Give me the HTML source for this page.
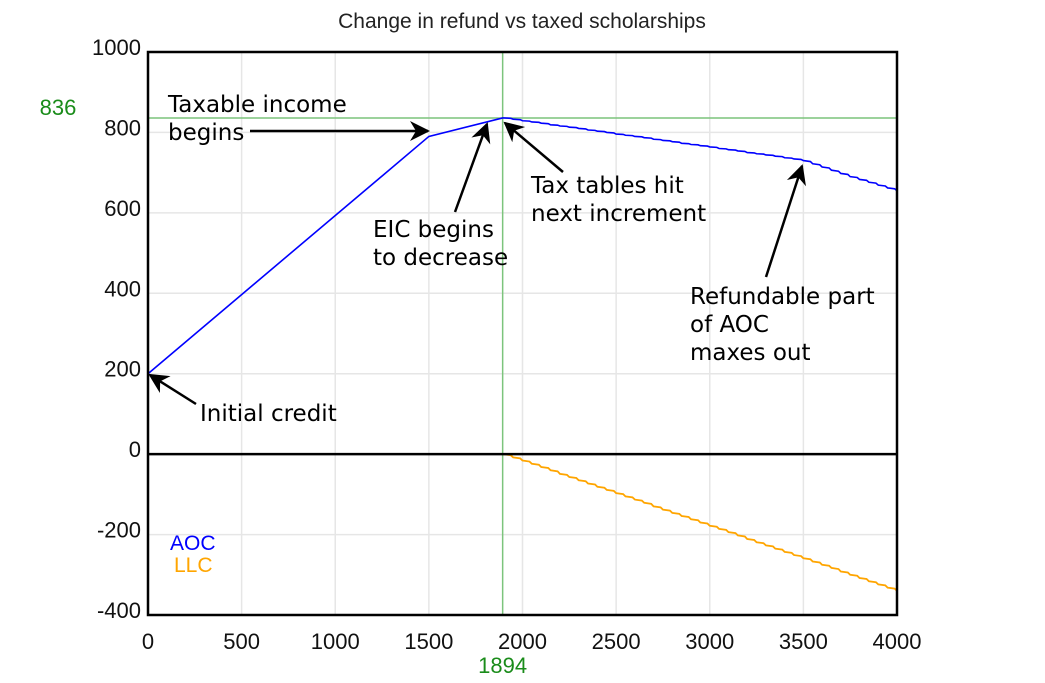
<!DOCTYPE html>
<html><head><meta charset="utf-8"><style>
body{margin:0;background:#fff}
svg{display:block}
text{font-family:"Liberation Sans",sans-serif}
.ann{font-family:"DejaVu Sans","Liberation Sans",sans-serif;font-size:23px;fill:#000}
</style></head><body>
<svg id="chart" width="1045" height="683" viewBox="0 0 1045 683" xmlns="http://www.w3.org/2000/svg">
<defs>
<marker id="ahb" viewBox="0 0 10 10" markerWidth="24" markerHeight="20" refX="9" refY="5" orient="auto" markerUnits="userSpaceOnUse"><path d="M0,0 L10,5 L0,10 L3,5z" fill="#000"/></marker></defs>
<text x="522" y="28" text-anchor="middle" font-size="21" fill="#222">Change in refund vs taxed scholarships</text>
<g id="grid"></g><g id="series"></g><g id="axes"></g>
<g>
<text class="ann" x="168" y="112">Taxable income</text>
<text class="ann" x="168" y="140">begins</text>
<line x1="250" y1="131" x2="428" y2="131" stroke="#000" stroke-width="2.5" marker-end="url(#ahb)"/>
<text class="ann" x="373" y="237">EIC begins</text>
<text class="ann" x="373" y="265">to decrease</text>
<line x1="455" y1="212" x2="487" y2="124" stroke="#000" stroke-width="2.5" marker-end="url(#ahb)"/>
<text class="ann" x="531" y="193">Tax tables hit</text>
<text class="ann" x="531" y="221">next increment</text>
<line x1="563" y1="172" x2="505" y2="123" stroke="#000" stroke-width="2.5" marker-end="url(#ahb)"/>
<text class="ann" x="690" y="304">Refundable part</text>
<text class="ann" x="690" y="332">of AOC</text>
<text class="ann" x="690" y="360">maxes out</text>
<line x1="766" y1="277" x2="802" y2="166" stroke="#000" stroke-width="2.5" marker-end="url(#ahb)"/>
<text class="ann" x="200" y="421">Initial credit</text>
<line x1="196" y1="404" x2="150" y2="375" stroke="#000" stroke-width="2.5" marker-end="url(#ahb)"/>
</g>
<text x="170" y="550" font-size="21" fill="#0000ff">AOC</text>
<text x="174" y="572" font-size="21" fill="#ffa500">LLC</text>
</svg>
<script>
const xTicks=[0,500,1000,1500,2000,2500,3000,3500,4000];
const yTicks=[-400,-200,0,200,400,600,800,1000];
const markerX=1894, markerY=836;
const aocX=[0,1500,1894,1900,1950,2000,2050,2100,2150,2200,2250,2300,2350,2400,2450,2500,2550,2600,2650,2700,2750,2800,2850,2900,2950,3000,3050,3100,3150,3200,3250,3300,3350,3400,3450,3500,3550,3600,3650,3700,3750,3800,3850,3900,3950,4000];
const aocY=[200,790,836,836,833,829,826,823,819,816,813,810,806,803,800,796,793,790,787,783,780,777,773,770,767,764,760,757,754,750,747,744,741,737,734,730,722,714,706,698,690,683,676,669,662,655];
const llcX=[1894,1950,2000,2050,2100,2150,2200,2250,2300,2350,2400,2450,2500,2550,2600,2650,2700,2750,2800,2850,2900,2950,3000,3050,3100,3150,3200,3250,3300,3350,3400,3450,3500,3550,3600,3650,3700,3750,3800,3850,3900,3950,4000];
const llcY=[0,-8,-16,-24,-32,-40,-49,-57,-65,-73,-81,-89,-97,-105,-113,-121,-130,-138,-146,-154,-162,-170,-178,-186,-194,-202,-211,-219,-227,-235,-243,-251,-259,-267,-275,-283,-292,-300,-308,-316,-324,-332,-340];
const L=148,R=897,T=52,B=615;
const sx=v=>L+(v-0)/(4000)*(R-L);
const sy=v=>B-(v+400)/1400*(B-T);
const NS="http://www.w3.org/2000/svg";
function mk(p,tag,at){const e=document.createElementNS(NS,tag);for(const k in at)e.setAttribute(k,at[k]);p.appendChild(e);return e;}
const g=document.getElementById('grid'),s=document.getElementById('series'),a=document.getElementById('axes');
xTicks.forEach(t=>{const l=mk(g,'line',{x1:sx(t),x2:sx(t),y1:T,y2:B,stroke:'#e6e6e6','stroke-width':1.5});


const tx=mk(a,'text',{x:sx(t),y:B+34,'text-anchor':'middle','font-size':22,fill:'#111'});tx.textContent=t;

});
yTicks.forEach(t=>{const l=mk(g,'line',{x1:L,x2:R,y1:sy(t),y2:sy(t),stroke:'#e6e6e6','stroke-width':1.5});


const tx=mk(a,'text',{x:L-7,y:sy(t)+3,'text-anchor':'end','font-size':22,fill:'#111'});tx.textContent=t;

});
const zl=mk(a,'line',{x1:L,x2:R,y1:sy(0),y2:sy(0),stroke:'#000','stroke-width':2.5});


const fr=mk(a,'rect',{x:L,y:T,width:R-L,height:B-T,fill:'none',stroke:'#000','stroke-width':2.5});


const vx=mk(g,'line',{x1:sx(markerX),x2:sx(markerX),y1:T,y2:B,stroke:'#7cc47c','stroke-width':1.5});


const hy=mk(g,'line',{x1:L,x2:R,y1:sy(markerY),y2:sy(markerY),stroke:'#7cc47c','stroke-width':1.5});


const mxl=mk(a,'text',{x:sx(markerX),y:B+58,'text-anchor':'middle','font-size':22,fill:'#1a8c1a'});mxl.textContent=markerX;


const myl=mk(a,'text',{x:58,y:sy(markerY)-3,'text-anchor':'middle','font-size':22,fill:'#1a8c1a'});myl.textContent=markerY;


function stepPath(xs,ys,stepFrom){let d='M'+sx(xs[0])+','+sy(ys[0]);
for(let i=1;i<xs.length;i++){if(xs[i-1]>=stepFrom){const xm=sx(xs[i-1])+(sx(xs[i])-sx(xs[i-1]))*0.75;d+=' L'+xm+','+sy(ys[i-1]+(ys[i]-ys[i-1])*0.3)+' L'+sx(xs[i])+','+sy(ys[i]);}else d+=' L'+sx(xs[i])+','+sy(ys[i]);}return d;}
const pa=mk(s,'path',{d:stepPath(aocX,aocY,1894),fill:'none',stroke:'#0000ff','stroke-width':1.6});


const pl=mk(s,'path',{d:stepPath(llcX,llcY,1894),fill:'none',stroke:'#ffa500','stroke-width':1.8});


</script>
</body></html>
